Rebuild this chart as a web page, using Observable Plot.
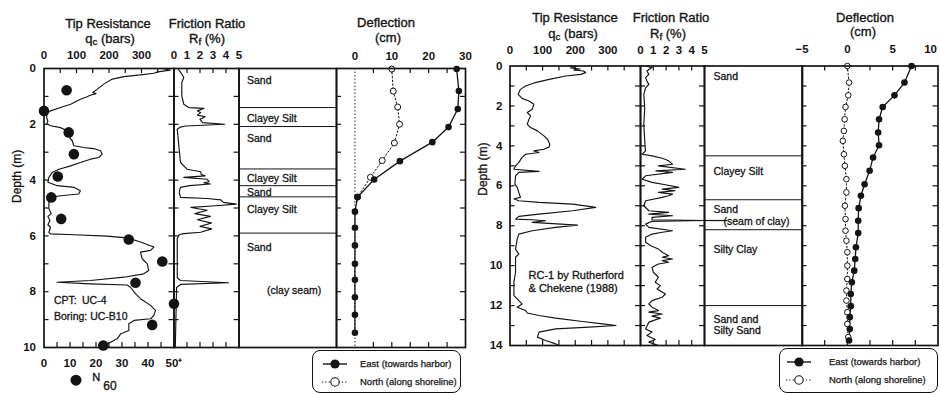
<!DOCTYPE html>
<html>
<head>
<meta charset="utf-8">
<script src="https://cdn.jsdelivr.net/npm/d3@7"></script>
<script src="https://cdn.jsdelivr.net/npm/@observablehq/plot@0.6"></script>
<style>
  body { margin: 0; background: #fff; }
  #chart { position: relative; width: 940px; height: 394px; overflow: hidden; background: #fff;
           font-family: "Liberation Sans", Arial, Helvetica, sans-serif; color: #141414; }
  #chart > svg { position: absolute; left: 0; top: 0; }
  .t { position: absolute; white-space: nowrap; line-height: 1; transform: translate(-50%, -50%); -webkit-text-stroke: 0.35px #141414; }
  .t sub { font-size: 75%; vertical-align: -0.3em; line-height: 0; }
  .lg { position: absolute; border: 1.4px solid #141414; border-radius: 8px; box-sizing: border-box; background: #fff; }
  .lg .row { position: absolute; left: 0; height: 14px; font-size: 9.5px; white-space: nowrap; -webkit-text-stroke: 0.25px #141414; }
  .lg .row span { position: absolute; top: 1px; }
  .lg svg { position: absolute; top: 0; }
</style>
</head>
<body>
<div id="chart"></div>
<script>
// ---------------- DATA ----------------
// Left site: CPT UC-4 / Boring UC-B10  -> [depth m, value]
const qcLeft = [[0,365],[0.06,388],[0.12,350],[0.17,338],[0.23,297],[0.29,246],[0.38,210],[0.56,184],[0.74,164],[0.86,150],[0.9,160],[0.97,140],[1.01,133],[1.1,112],[1.28,82],[1.4,51],[1.52,20],[1.6,10],[1.75,8],[1.9,12],[1.98,8],[2.05,20],[2.12,51],[2.2,66],[2.35,76],[2.5,80],[2.59,87],[2.77,92],[2.83,122],[2.87,153],[2.95,174],[3.07,179],[3.19,169],[3.25,143],[3.37,112],[3.49,82],[3.61,46],[3.73,25],[3.9,15],[4.08,12],[4.2,41],[4.26,92],[4.38,112],[4.5,107],[4.56,51],[4.62,20],[4.8,15],[5.03,15],[5.2,22],[5.3,12],[5.45,18],[5.6,12],[5.69,20],[5.87,15],[5.93,20],[5.96,92],[6.01,194],[6.07,256],[6.22,297],[6.4,338],[6.52,328],[6.58,297],[6.82,302],[7.0,318],[7.24,322],[7.36,307],[7.48,246],[7.6,143],[7.66,40],[7.72,143],[7.76,256],[7.84,266],[8.08,282],[8.25,297],[8.49,328],[8.67,343],[8.85,338],[8.97,328],[9.03,277],[9.15,261],[9.39,261],[9.51,236],[9.69,225],[9.81,205],[9.9,190],[10,184]];
const n60Left = [[0.78,8.7],[1.52,0],[2.29,9.5],[3.07,11.5],[3.87,5.3],[4.62,2.8],[5.39,6.6],[6.13,32.6],[6.92,45.5],[7.68,35.2],[8.43,50],[9.19,41.6],[9.93,22.8]];
const rfLeft = [[0,0.3],[0.2,0.6],[0.32,0.75],[0.5,0.6],[0.98,0.6],[1.28,0.75],[1.4,1.14],[1.43,2.3],[1.52,1.8],[1.58,2.05],[1.67,1.8],[1.73,2.4],[1.82,2.0],[1.94,2.2],[2.0,3.9],[2.06,0.9],[2.1,0.5],[2.18,0.25],[2.89,0.4],[3.37,0.5],[3.61,1.0],[3.7,2.05],[3.8,2.1],[3.85,2.4],[3.9,0.75],[3.97,2.55],[4.06,2.7],[4.1,2.3],[4.14,2.8],[4.2,1.2],[4.26,0.5],[4.44,0.4],[4.62,0.5],[4.66,2.55],[4.71,3.6],[4.8,3.8],[4.86,4.8],[4.92,3.2],[4.98,1.3],[5.08,2.55],[5.2,1.6],[5.3,2.8],[5.42,1.8],[5.54,2.9],[5.66,2.0],[5.75,2.9],[5.87,2.05],[5.92,0.75],[5.96,0.4],[6.1,0.25],[7.5,0.25],[7.6,0.5],[7.68,4.2],[7.74,0.5],[7.85,0.2],[10,0.1]];
const soilBoundsLeft = [1.4, 2.08, 3.6, 4.2, 4.6, 5.9];
const soilNamesLeft = ["Sand", "Clayey Silt", "Sand", "Clayey Silt", "Sand", "Clayey Silt", "Sand"];
const soilLabelDepthLeft = [0.43, 1.79, 2.51, 3.94, 4.44, 5.05, 6.42];
const seamLeft = [{name: "(clay seam)", d: 7.96}];
const deflEastLeft = [[0.02,27.6],[0.81,28.2],[1.45,27.9],[2.1,25.4],[2.64,21],[3.32,12.2],[3.98,5.2],[4.61,0.7],[5.13,0],[5.71,0],[6.34,0],[7.0,0],[7.57,0],[8.2,0],[8.83,0],[9.47,0]];
const deflNorthLeft = [[0.02,10],[0.81,10.4],[1.38,11.6],[2.0,12.1],[2.67,10.7],[3.3,7.4],[3.9,4.2],[4.61,0.7]];

// Right site: RC-1 by Rutherford & Chekene (1988)
const qcRight = [[0,181],[0.05,200],[0.1,185],[0.15,215],[0.2,195],[0.25,225],[0.33,232],[0.42,217],[0.5,171],[0.67,120],[0.83,78],[1.0,48],[1.17,32],[1.42,25],[1.62,37],[1.75,58],[1.92,73],[2.17,68],[2.33,53],[2.5,63],[2.67,58],[2.92,53],[3.08,63],[3.25,84],[3.5,104],[3.67,115],[3.92,122],[4.05,120],[4.17,104],[4.25,73],[4.33,89],[4.42,48],[4.58,37],[4.83,27],[5.0,17],[5.17,12],[5.28,89],[5.33,27],[5.5,17],[5.92,15],[6.08,22],[6.33,27],[6.58,32],[6.65,12],[6.75,27],[6.83,89],[6.92,192],[7.08,263],[7.25,192],[7.42,89],[7.53,27],[7.67,17],[7.7,68],[7.75,109],[7.83,68],[7.97,207],[8.08,140],[8.25,68],[8.42,27],[8.67,22],[9.17,17],[9.42,27],[9.58,17],[10.33,17],[10.83,12],[11.5,12],[11.75,27],[11.92,37],[12.08,22],[12.25,48],[12.37,53],[12.5,89],[12.63,140],[12.8,222],[12.92,284],[13.0,325],[13.08,243],[13.17,140],[13.33,89],[13.58,84],[13.75,109],[13.92,140],[14,150]];
const rfRight = [[0,0.4],[0.08,0.9],[0.25,0.5],[0.42,0.65],[0.58,0.4],[0.75,0.5],[0.92,0.65],[1.1,0.4],[1.42,0.26],[2.08,0.33],[2.92,0.26],[3.75,0.33],[4.25,0.39],[4.42,0.13],[4.5,0.9],[4.62,1.7],[4.75,2.2],[4.92,2.5],[5.0,1.4],[5.17,3.5],[5.25,1.2],[5.33,2.5],[5.5,0.4],[5.67,0.13],[5.83,0.9],[5.95,1.95],[6.08,3.0],[6.17,1.7],[6.25,2.7],[6.33,1.4],[6.42,2.5],[6.5,2.2],[6.58,1.7],[6.75,0.4],[7.0,0.26],[7.25,0.65],[7.33,2.2],[7.42,0.65],[7.5,2.5],[7.58,0.9],[7.7,0.9],[7.74,5.0],[7.78,0.9],[7.92,0.4],[8.08,0.65],[8.25,2.5],[8.33,1.7],[8.42,0.9],[8.58,0.4],[8.83,0.4],[9.0,0.8],[9.17,1.4],[9.33,1.7],[9.5,2.2],[9.58,1.7],[9.67,2.5],[9.75,1.7],[9.83,2.2],[9.92,1.4],[10.08,0.9],[10.33,1.0],[10.58,1.4],[10.83,1.15],[11.0,1.55],[11.17,1.3],[11.42,1.95],[11.58,1.7],[11.75,0.9],[11.92,0.65],[12.08,0.9],[12.25,1.4],[12.33,0.65],[12.42,1.7],[12.53,0.9],[12.63,1.55],[12.83,0.65],[13.17,0.4],[13.33,0.9],[13.5,0.5],[13.7,1.15],[13.83,0.65],[14,1.4]];
const soilBoundsRight = [4.5, 6.7, 8.2, 12.0];
const soilNamesRight = ["Sand", "Clayey Silt", "Sand", "Silty Clay", "Sand and\nSilty Sand"];
const soilLabelDepthRight = [0.5, 5.25, 7.17, 9.17, 12.96];
const seamRight = [{name: "(seam of clay)", d: 7.8}];
const seamLeaderDepthRight = [7.74];
const deflEastRight = [[0.0,7.08],[0.83,6.3],[1.47,5.2],[2.05,3.9],[2.67,3.5],[3.33,3.4],[3.97,3.5],[4.58,2.84],[5.25,2.46],[5.92,1.9],[6.5,1.5],[7.12,1.25],[7.75,1.2],[8.37,1.2],[9.08,0.95],[9.67,0.87],[10.25,0.76],[10.83,0.5],[11.42,0.38],[12.03,0.38],[12.58,0.27],[13.17,0.27],[13.75,0.19]];
const deflNorthRight = [[0.0,0],[0.83,0.19],[1.47,0.1],[2.05,-0.2],[2.67,-0.3],[3.25,-0.38],[3.75,-0.5],[4.42,-0.38],[5.0,-0.27],[5.67,-0.1],[6.33,-0.1],[7.0,-0.27],[7.67,-0.2],[8.25,-0.2],[8.75,-0.1],[9.33,0],[10.0,0],[10.67,0],[11.25,-0.1],[11.75,-0.1],[12.33,0],[12.92,0],[13.58,0.1]];

// tick labels
const qcTickLabels = [0, 100, 200, 300];
const n60TickLabels = [0, 10, 20, 30, 40, 50];
const rfTickLabels = [0, 1, 2, 3, 4, 5];
const deflTickLabelsLeft = [0, 10, 20, 30];
const deflTickLabelsRight = [-5, 0, 5];
const deflTickLabelsRightEdge = [10];
const depthLabelsLeft = [0, 2, 4, 6, 8, 10];
const depthLabelsRight = [0, 2, 4, 6, 8, 10, 12, 14];
const legendNames = ["East (towards harbor)", "North (along shoreline)"];

// ---------------- DRAWING ----------------
const FONT = '"Liberation Sans", Arial, Helvetica, sans-serif';
const INK = "#141414";
const chart = document.getElementById("chart");
const W = 940, H = 394;

function plotAt([l, r, t, b], opts) {
  const svg = Plot.plot({
    width: W, height: H,
    marginLeft: l, marginRight: W - r, marginTop: t, marginBottom: H - b,
    style: {background: "transparent", fontFamily: FONT, color: INK, overflow: "visible"},
    ...opts
  });
  chart.append(svg);
}
function frameTicks(xVals, yVals, [l, r, t, b], {top = true, bottom = true, sides = true} = {}) {
  const iw = r - l, ih = b - t, o = {stroke: INK, strokeWidth: 1.2};
  const m = [];
  if (top && xVals) m.push(Plot.tickX(xVals, {x: d => d, insetBottom: ih - 5, ...o}));
  if (bottom && xVals) m.push(Plot.tickX(xVals, {x: d => d, insetTop: ih - 5, ...o}));
  if (sides) {
    m.push(Plot.tickY(yVals, {y: d => d, insetRight: iw - 5, ...o}));
    m.push(Plot.tickY(yVals, {y: d => d, insetLeft: iw - 5, ...o}));
  }
  return m;
}
const frameMark = () => Plot.frame({stroke: INK, strokeWidth: 1.7});
const tickTxt = {tickSize: 0, label: null, fontSize: 11.5, fontWeight: "bold", fill: INK};
const txt = {fill: INK, stroke: INK, strokeWidth: 0.3};
const lineOpt = {x: d => d[1], y: d => d[0], stroke: INK, strokeWidth: 1.15, strokeLinejoin: "round"};

// ---- Left panel ----
const LT = 68, LB = 347;
const yL = {domain: [0, 10], reverse: true, axis: null};
const depthTickL = d3.range(1, 10);
const QL = [43.5, 173.5, LT, LB], RL = [173.5, 238.5, LT, LB], SL = [238.5, 336, LT, LB], DL = [336, 465, LT, LB];

plotAt(QL, {
  x: {domain: [0, 400], axis: null}, y: yL,
  marks: [
    ...frameTicks(d3.range(50, 400, 50), depthTickL, QL, {bottom: false}),
    Plot.axisX(qcTickLabels, {anchor: "top", tickPadding: 10, ...tickTxt}),
    Plot.axisY(depthLabelsLeft, {anchor: "left", tickPadding: 8, ...tickTxt}),
    Plot.line(qcLeft, lineOpt),
    Plot.text(["Depth (m)"], {frameAnchor: "left", dx: -27, dy: -5, rotate: -90, fontSize: 12, ...txt}),
    Plot.text(["CPT:\u2002UC-4\nBoring: UC-B10"], {frameAnchor: "bottom-left", dx: 10, dy: -28, textAnchor: "start", lineAnchor: "bottom", lineHeight: 1.5, fontSize: 10.5, ...txt}),
    frameMark()
  ]
});
plotAt(QL, {
  x: {domain: [0, 50], axis: null}, y: yL,
  marks: [
    ...frameTicks(d3.range(5, 50, 5), depthTickL, QL, {top: false, sides: false}),
    Plot.axisX(n60TickLabels, {anchor: "bottom", tickPadding: 11, ...tickTxt, tickFormat: d => d === 50 ? "50\u207A" : String(d)}),
    Plot.dot(n60Left, {x: d => d[1], y: d => d[0], r: 5.3, fill: INK})
  ]
});
plotAt(RL, {
  x: {domain: [0, 5], axis: null}, y: yL,
  marks: [
    ...frameTicks([1, 2, 3, 4], depthTickL, RL),
    Plot.axisX(rfTickLabels, {anchor: "top", tickPadding: 10, ...tickTxt}),
    Plot.line(rfLeft, lineOpt),
    frameMark()
  ]
});
plotAt(SL, {
  y: yL,
  marks: [
    Plot.ruleY(soilBoundsLeft, {stroke: INK, strokeWidth: 1}),
    Plot.text(soilNamesLeft, {y: (d, i) => soilLabelDepthLeft[i], frameAnchor: "left", dx: 8, textAnchor: "start", fontSize: 10.5, ...txt}),
    Plot.text(seamLeft, {y: "d", text: "name", frameAnchor: "left", dx: 28, textAnchor: "start", fontSize: 10.5, ...txt}),
    frameMark()
  ]
});
plotAt(DL, {
  x: {domain: [-5, 30], axis: null}, y: yL,
  marks: [
    ...frameTicks([5, 10, 15, 20, 25], depthTickL, DL),
    Plot.axisX(deflTickLabelsLeft, {anchor: "top", tickPadding: 9, ...tickTxt}),
    Plot.ruleX([0], {stroke: INK, strokeWidth: 0.9, strokeDasharray: "1.5,2"}),
    Plot.line(deflNorthLeft, {...lineOpt, strokeWidth: 1, strokeDasharray: "1.5,2.2"}),
    Plot.line(deflEastLeft, {...lineOpt, strokeWidth: 1.3}),
    Plot.dot(deflNorthLeft, {x: d => d[1], y: d => d[0], r: 3, fill: "white", stroke: INK, strokeWidth: 1}),
    Plot.dot(deflEastLeft, {x: d => d[1], y: d => d[0], r: 3.3, fill: INK}),
    frameMark()
  ]
});

// ---- Right panel ----
const RT = 65.5, RB = 345;
const yR = {domain: [0, 14], reverse: true, axis: null};
const depthTickR = d3.range(1, 14);
const QR = [509.5, 640, RT, RB], FR = [640, 704, RT, RB], SR = [704, 802, RT, RB], DR = [801.5, 937.5, RT, RB];

plotAt(QR, {
  x: {domain: [0, 400], axis: null}, y: yR,
  marks: [
    ...frameTicks(d3.range(50, 400, 50), depthTickR, QR),
    Plot.axisX(qcTickLabels, {anchor: "top", tickPadding: 12, ...tickTxt}),
    Plot.axisY(depthLabelsRight, {anchor: "left", tickPadding: 7.5, ...tickTxt}),
    Plot.line(qcRight, lineOpt),
    Plot.text(["Depth (m)"], {frameAnchor: "left", dx: -27, dy: -10, rotate: -90, fontSize: 12, ...txt}),
    Plot.text(["RC-1 by Rutherford\n& Chekene (1988)"], {frameAnchor: "bottom-left", dx: 18.5, dy: -54, textAnchor: "start", lineAnchor: "bottom", lineHeight: 1.1, fontSize: 11, ...txt}),
    frameMark()
  ]
});
plotAt(FR, {
  x: {domain: [0, 5], axis: null}, y: yR,
  marks: [
    ...frameTicks([1, 2, 3, 4], depthTickR, FR),
    Plot.axisX(rfTickLabels, {anchor: "top", tickPadding: 12, ...tickTxt}),
    Plot.line(rfRight, lineOpt),
    frameMark()
  ]
});
plotAt(SR, {
  y: yR,
  marks: [
    Plot.ruleY(soilBoundsRight, {stroke: INK, strokeWidth: 1}),
    Plot.tickY(seamLeaderDepthRight, {y: d => d, insetRight: (802 - 704) - 23, stroke: INK, strokeWidth: 1.2}),
    Plot.text(soilNamesRight, {y: (d, i) => soilLabelDepthRight[i], frameAnchor: "left", dx: 9, textAnchor: "start", lineHeight: 1.1, fontSize: 10.5, ...txt}),
    Plot.text(seamRight, {y: "d", text: "name", frameAnchor: "left", dx: 19, textAnchor: "start", fontSize: 10.5, ...txt}),
    frameMark()
  ]
});
plotAt(DR, {
  x: {domain: [-5, 10], axis: null}, y: yR,
  marks: [
    ...frameTicks([-2.5, 0, 2.5, 5, 7.5], depthTickR, DR),
    Plot.axisX(deflTickLabelsRight, {anchor: "top", tickPadding: 13, ...tickTxt}),
    Plot.text(deflTickLabelsRightEdge, {x: d => d, text: d => String(d), frameAnchor: "top", dy: -13, dx: -1, textAnchor: "end", lineAnchor: "bottom", fontSize: 11.5, fontWeight: "bold", fill: INK}),
    Plot.line(deflNorthRight, {...lineOpt, strokeWidth: 1, strokeDasharray: "1.5,2.2"}),
    Plot.line(deflEastRight, {...lineOpt, strokeWidth: 1.3}),
    Plot.dot(deflNorthRight, {x: d => d[1], y: d => d[0], r: 2.8, fill: "white", stroke: INK, strokeWidth: 1}),
    Plot.dot(deflEastRight, {x: d => d[1], y: d => d[0], r: 3.3, fill: INK}),
    frameMark()
  ]
});

// ---------------- Titles (HTML text) ----------------
function label(html, x, y, size = 13, extra = "") {
  const el = document.createElement("div");
  el.className = "t";
  el.style.left = x + "px"; el.style.top = y + "px"; el.style.fontSize = size + "px";
  if (extra) el.style.cssText += extra;
  el.innerHTML = html;
  chart.append(el);
}
label("Tip Resistance", 108, 23);
label("q<sub>c</sub>&nbsp;(bars)", 110, 38);
label("Friction Ratio", 207, 23);
label("R<sub>f</sub> (%)", 207, 38);
label("Deflection", 386, 22);
label("(cm)", 388, 37);
label("Tip Resistance", 575, 17);
label("q<sub>c</sub>&nbsp;(bars)", 573, 33);
label("Friction Ratio", 671, 17);
label("R<sub>f</sub> (%)", 668, 33);
label("Deflection", 865, 17);
label("(cm)", 863, 31);
// N60 key below left qc plot
label('<svg width="12" height="12" style="vertical-align:middle"><circle cx="6" cy="6" r="5.5" fill="#141414"/></svg>', 76, 379);
label('N<span style="font-size:12px;position:relative;top:9px;left:3px">60</span>', 103, 377, 11);

// ---------------- Legends ----------------
function legend(x, y, w, h, symX, textX) {
  const box = document.createElement("div");
  box.className = "lg";
  Object.assign(box.style, {left: x + "px", top: y + "px", width: w + "px", height: h + "px"});
  const rows = [
    `<svg width="30" height="14" style="left:${symX - 15}px"><line x1="3" y1="7" x2="27" y2="7" stroke="#141414" stroke-width="1.4"/><circle cx="15" cy="7" r="4.6" fill="#141414"/></svg>`,
    `<svg width="30" height="14" style="left:${symX - 15}px"><line x1="2" y1="7" x2="28" y2="7" stroke="#141414" stroke-width="1" stroke-dasharray="1.3,2"/><circle cx="15" cy="7" r="4.2" fill="#fff" stroke="#141414" stroke-width="1.1"/></svg>`
  ];
  legendNames.forEach((name, i) => {
    const row = document.createElement("div");
    row.className = "row";
    row.style.top = (i === 0 ? 6 : 24) + "px";
    row.style.width = w + "px";
    row.innerHTML = rows[i] + `<span style="left:${textX}px">${name}</span>`;
    box.append(row);
  });
  chart.append(box);
}
legend(312, 350, 149, 43, 22, 47);
legend(779, 348, 159, 45, 19, 49);
</script>
</body>
</html>
